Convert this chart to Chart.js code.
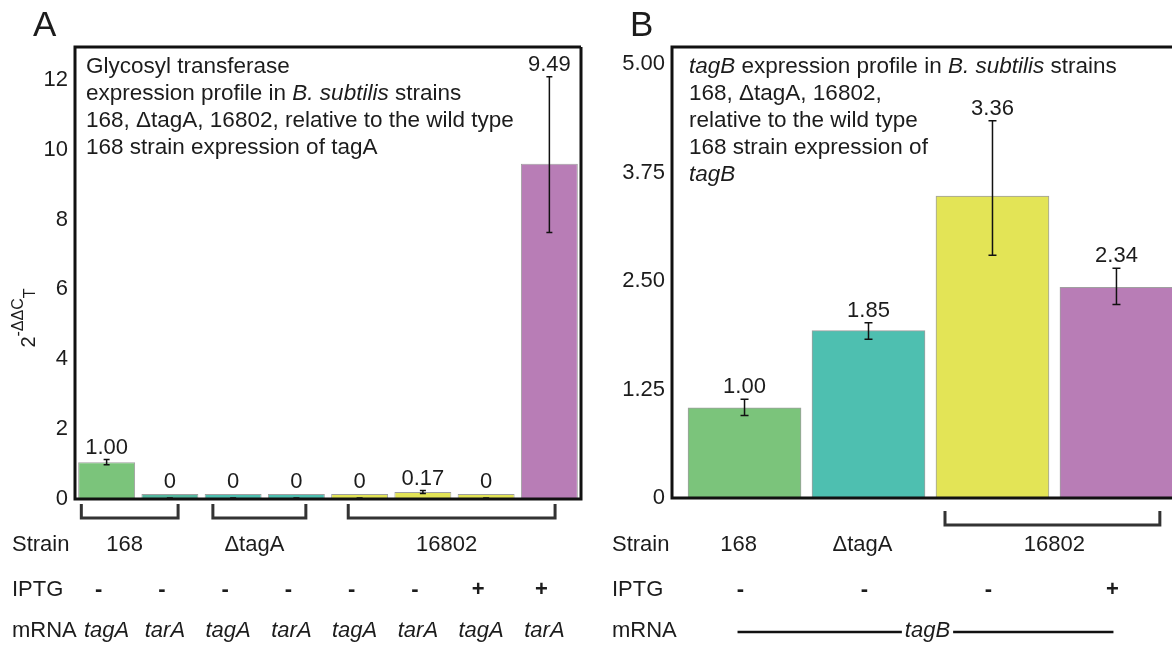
<!DOCTYPE html>
<html><head><meta charset="utf-8">
<script src="https://cdn.jsdelivr.net/npm/chart.js@4.4.0/dist/chart.umd.min.js"></script>
<style>
html,body{margin:0;padding:0;background:#fff;overflow:hidden;width:1172px;height:646px}
#ca{position:absolute;left:0;top:0}
#cb{position:absolute;left:590px;top:0}
</style></head><body>
<canvas id="ca" width="590" height="646"></canvas>
<canvas id="cb" width="582" height="646"></canvas>
<script>
const FONT = '"Liberation Sans", Arial, Helvetica, sans-serif';

// ---------- Panel A data ----------
const aCategories = ['168 tagA','168 tarA','ΔtagA tagA','ΔtagA tarA','16802 tagA','16802 tarA','16802 tagA IPTG','16802 tarA IPTG'];
const aValues = [1.05, 0, 0, 0, 0, 0.2, 0, 9.6];
const aValueLabels = ['1.00','0','0','0','0','0.17','0','9.49'];
const aErrLow  = [0.98, 0, 0, 0, 0, 0.16, 0, 7.63];
const aErrHigh = [1.13, 0.03, 0.03, 0.03, 0.03, 0.24, 0.03, 12.09];
const aIPTG = ['-','-','-','-','-','-','+','+'];
const aMRNA = ['tagA','tarA','tagA','tarA','tagA','tarA','tagA','tarA'];
const aStrainNames = ['168','ΔtagA','16802'];
const aStrainFirst = [0, 2, 4];
const aStrainLast  = [1, 3, 7];
const aTicks = [0, 2, 4, 6, 8, 10, 12];

// ---------- Panel B data ----------
const bCategories = ['168','ΔtagA','16802','16802 IPTG'];
const bValues = [1.04, 1.93, 3.48, 2.43];
const bValueLabels = ['1.00','1.85','3.36','2.34'];
const bErrLow  = [0.95, 1.83, 2.80, 2.23];
const bErrHigh = [1.14, 2.02, 4.35, 2.65];
const bIPTG = ['-','-','-','+'];
const bMRNA = 'tagB';
const bStrainNames = ['168','ΔtagA','16802'];
const bStrainFirst = [0, 1, 2];
const bStrainLast  = [0, 1, 3];
const bStrainBracket = [false, false, true];
const bTicks = [0, 1.25, 2.5, 3.75, 5];

// ---------- styles ----------
const aColors = ['#7bc47b','#55b8a0','#4ebfb0','#4ebfb0','#e3e456','#e3e456','#e3e456','#b87db6'];
const bColors = ['#7bc47b','#4ebfb0','#e3e456','#b87db6'];
const TXT = '#1c1c1c';

function runs(ctx, parts, x, y, size){
  let cx = x;
  for (const p of parts){
    ctx.font = (p[1] ? 'italic ' : '') + size + 'px ' + FONT;
    ctx.fillText(p[0], cx, y);
    cx += ctx.measureText(p[0]).width;
  }
}

function decor(opts){
  return {
    id: 'decor',
    afterDraw(chart){
      const ctx = chart.ctx, ca = chart.chartArea;
      const ys = chart.scales.y, xs = chart.scales.x;
      const meta = chart.getDatasetMeta(0);
      ctx.save();
      // box
      ctx.strokeStyle = '#111'; ctx.lineWidth = 3;
      ctx.beginPath();
      ctx.moveTo(ca.right + opts.boxRightExtra, ca.top);
      ctx.lineTo(ca.left, ca.top);
      ctx.lineTo(ca.left, ca.bottom);
      ctx.lineTo(ca.right + opts.boxRightExtra, ca.bottom);
      if (opts.boxRightExtra === 0) ctx.lineTo(ca.right, ca.top);
      ctx.stroke();
      // error bars + value labels
      ctx.strokeStyle = '#111'; ctx.lineWidth = 1.5;
      ctx.fillStyle = TXT;
      ctx.textAlign = 'center'; ctx.textBaseline = 'alphabetic';
      ctx.font = '22px ' + FONT;
      meta.data.forEach((bar, i) => {
        const x = bar.x;
        const yl = ys.getPixelForValue(opts.lo[i]);
        const yh = ys.getPixelForValue(opts.hi[i]);
        ctx.beginPath();
        ctx.moveTo(x, yl); ctx.lineTo(x, yh);
        ctx.moveTo(x - opts.cap, yl); ctx.lineTo(x + opts.cap, yl);
        ctx.moveTo(x - opts.cap, yh); ctx.lineTo(x + opts.cap, yh);
        ctx.stroke();
        const top = Math.min(yh, bar.y);
        ctx.fillText(opts.labels[i], x, top - 6);
      });
      // panel letter
      ctx.textAlign = 'left';
      ctx.font = '35px ' + FONT;
      ctx.fillText(opts.letter, ca.left - 42, 36);
      // description
      ctx.textBaseline = 'middle';
      opts.desc.forEach((line, k) => runs(ctx, line, ca.left + opts.descDx, 67 + 27 * k, 22.5));
      // annotation rows
      ctx.font = '22px ' + FONT;
      ctx.textAlign = 'left';
      ctx.fillText('Strain', opts.rowX, 545);
      ctx.fillText('IPTG', opts.rowX, 590);
      ctx.fillText('mRNA', opts.rowX, 631);
      opts.rows(ctx, chart, meta, xs);
      ctx.restore();
    }
  };
}

function yTitle(ctx){
  ctx.save();
  ctx.translate(27, 318);
  ctx.rotate(-Math.PI / 2);
  ctx.fillStyle = TXT; ctx.textBaseline = 'alphabetic'; ctx.textAlign = 'left';
  ctx.font = '20px ' + FONT; const w1 = ctx.measureText('2').width;
  ctx.font = '16px ' + FONT; const w2 = ctx.measureText('-ΔΔC').width;
  const w3 = ctx.measureText('T').width;
  let x = -(w1 + w2 + w3) / 2;
  ctx.font = '20px ' + FONT; ctx.fillText('2', x, 8); x += w1;
  ctx.font = '16px ' + FONT; ctx.fillText('-ΔΔC', x, -4); x += w2;
  ctx.fillText('T', x, 8);
  ctx.restore();
}

function bracket(ctx, x1, x2, y1, y2){
  ctx.save();
  ctx.strokeStyle = '#333'; ctx.lineWidth = 3; ctx.lineJoin = 'miter';
  ctx.beginPath();
  ctx.moveTo(x1, y1); ctx.lineTo(x1, y2); ctx.lineTo(x2, y2); ctx.lineTo(x2, y1);
  ctx.stroke();
  ctx.restore();
}

const aBracketPad = [[-0.40, 0.13], [-0.32, 0.15], [-0.18, 0.09]];

// ---------- Panel A ----------
new Chart(document.getElementById('ca'), {
  type: 'bar',
  data: {
    labels: aCategories,
    datasets: [{
      data: aValues,
      backgroundColor: aColors,
      borderColor: 'rgba(80,80,80,0.55)',
      borderWidth: 1,
      minBarLength: 5,
      barPercentage: 0.9,
      categoryPercentage: 1.0
    }]
  },
  options: {
    responsive: false, animation: false, devicePixelRatio: 1,
    layout: { padding: { left: 0, top: 47, right: 9, bottom: 147 } },
    plugins: { legend: { display: false }, tooltip: { enabled: false } },
    scales: {
      x: { display: false },
      y: {
        min: 0, max: 12.94,
        afterBuildTicks(s){ s.ticks = aTicks.map(v => ({ value: v })); },
        afterFit(s){ s.width = 75; },
        grid: { display: false, drawTicks: false }, border: { display: false },
        ticks: { color: TXT, padding: 7, font: { family: FONT, size: 22 }, callback: v => String(v) }
      }
    }
  },
  plugins: [decor({
    letter: 'A', lo: aErrLow, hi: aErrHigh, labels: aValueLabels, cap: 3, boxRightExtra: 0,
    descDx: 11, rowX: 12,
    desc: [
      [['Glycosyl transferase', 0]],
      [['expression profile in ', 0], ['B. subtilis', 1], [' strains', 0]],
      [['168, ΔtagA, 16802, relative to the wild type', 0]],
      [['168 strain expression of tagA', 0]]
    ],
    rows(ctx, chart, meta, xs){
      const slot = (chart.chartArea.right - chart.chartArea.left) / aCategories.length;
      ctx.textAlign = 'center';
      aStrainNames.forEach((n, g) => {
        const x1 = meta.data[aStrainFirst[g]].x + aBracketPad[g][0] * slot;
        const x2 = meta.data[aStrainLast[g]].x + aBracketPad[g][1] * slot;
        bracket(ctx, x1, x2, 504, 518);
        ctx.font = '22px ' + FONT; ctx.fillStyle = TXT;
        ctx.fillText(n, (x1 + x2) / 2 - 5, 545);
      });
      meta.data.forEach((bar, i) => {
        ctx.font = 'bold 22px ' + FONT;
        ctx.fillText(aIPTG[i], bar.x - 8, 590);
        ctx.font = 'italic 22px ' + FONT;
        ctx.fillText(aMRNA[i], bar.x - (i === 0 ? 0 : 5), 631);
      });
      yTitle(ctx);
    }
  })]
});

// ---------- Panel B ----------
new Chart(document.getElementById('cb'), {
  type: 'bar',
  data: {
    datasets: [{
      data: bValues.map((v, i) => ({ x: i, y: v })),
      backgroundColor: bColors,
      borderColor: 'rgba(80,80,80,0.55)',
      borderWidth: 1,
      barThickness: 113
    }]
  },
  options: {
    responsive: false, animation: false, devicePixelRatio: 1,
    layout: { padding: { left: 0, top: 47, right: 0, bottom: 148 } },
    plugins: { legend: { display: false }, tooltip: { enabled: false } },
    scales: {
      x: { type: 'linear', min: -0.585, max: 3.448, offset: false, display: false,
           afterBuildTicks(s){ s.ticks = bValues.map((v, i) => ({ value: i })); } },
      y: {
        min: 0, max: 5.2,
        afterBuildTicks(s){ s.ticks = bTicks.map(v => ({ value: v })); },
        afterFit(s){ s.width = 82; },
        grid: { display: false, drawTicks: false }, border: { display: false },
        ticks: { color: TXT, padding: 7, font: { family: FONT, size: 22 },
                 callback: v => v === 0 ? '0' : Number(v).toFixed(2) }
      }
    }
  },
  plugins: [decor({
    letter: 'B', lo: bErrLow, hi: bErrHigh, labels: bValueLabels, cap: 4, boxRightExtra: 10,
    descDx: 17, rowX: 22,
    desc: [
      [['tagB', 1], [' expression profile in ', 0], ['B. subtilis', 1], [' strains', 0]],
      [['168, ΔtagA, 16802,', 0]],
      [['relative to the wild type', 0]],
      [['168 strain expression of', 0]],
      [['tagB', 1]]
    ],
    rows(ctx, chart, meta, xs){
      const unit = xs.getPixelForValue(1) - xs.getPixelForValue(0);
      ctx.textAlign = 'center';
      bStrainNames.forEach((n, g) => {
        let cx;
        if (bStrainBracket[g]) {
          const x1 = meta.data[bStrainFirst[g]].x - 0.383 * unit;
          const x2 = meta.data[bStrainLast[g]].x + 0.35 * unit;
          bracket(ctx, x1, x2, 511, 525);
          cx = (x1 + x2) / 2 + 2;
        } else {
          cx = (meta.data[bStrainFirst[g]].x + meta.data[bStrainLast[g]].x) / 2 - 6;
        }
        ctx.font = '22px ' + FONT; ctx.fillStyle = TXT;
        ctx.fillText(n, cx, 545);
      });
      meta.data.forEach((bar, i) => {
        ctx.font = 'bold 22px ' + FONT;
        ctx.fillText(bIPTG[i], bar.x - 4, 590);
      });
      // mRNA line with tagB
      const xa = meta.data[0].x - 7, xb = meta.data[meta.data.length - 1].x - 3;
      const mid = (xa + xb) / 2 + 2;
      ctx.font = 'italic 22px ' + FONT;
      const tw = ctx.measureText(bMRNA).width;
      ctx.fillText(bMRNA, mid, 631);
      ctx.strokeStyle = '#111'; ctx.lineWidth = 2.5;
      ctx.beginPath();
      ctx.moveTo(xa, 632); ctx.lineTo(mid - tw / 2 - 3, 632);
      ctx.moveTo(mid + tw / 2 + 3, 632); ctx.lineTo(xb, 632);
      ctx.stroke();
    }
  })]
});
</script>
</body></html>
